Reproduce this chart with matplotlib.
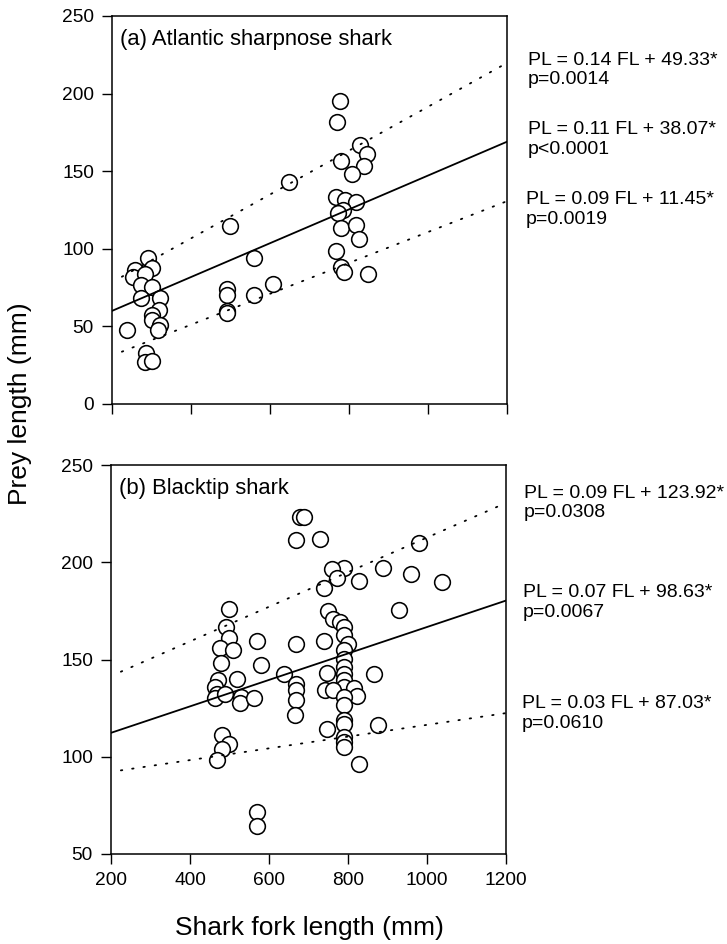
import matplotlib
matplotlib.use("Agg")
import matplotlib.pyplot as plt
import numpy as np

plt.rcParams['font.family'] = ['Liberation Sans', 'DejaVu Sans']

# (a) Atlantic sharpnose shark: fork length (mm), prey length (mm)
sharpnose_fl = [239, 259, 253, 291, 300, 283, 274, 300, 274, 321, 318, 300, 300, 321, 317,
                285, 283, 300,
                498, 490, 490, 490, 490, 559, 559, 608, 649,
                777, 769, 779, 828, 845, 838, 807, 767, 790, 818, 786, 771, 779, 818,
                826, 767, 781, 788, 849]
sharpnose_pl = [47.7, 86.3, 82, 94, 87.4, 83.8, 76.7, 75.6, 68, 68, 60.6, 57.4, 54, 51, 48,
                32.6, 27.3, 28,
                114.7, 74, 70.5, 60, 58.5, 93.9, 70, 77.1, 143.3,
                195.4, 181.5, 156.8, 166.9, 160.9, 153.6, 148, 133.2, 131.5, 130.4, 125, 122.9, 113.2, 115.4,
                106.3, 98.8, 88.5, 84.8, 83.5]

# (b) Blacktip shark
blacktip_fl = [500, 491, 500, 476, 510, 479, 472, 518, 463, 468, 463, 489, 528, 527, 561,
               480, 500, 480, 468, 569, 580, 569, 569,
               679, 689, 668, 728, 668, 639, 669, 669, 669, 667,
               789, 760, 772, 738, 828, 888, 959, 981, 1039, 928, 749, 763, 780, 789, 789,
               801, 738, 789, 789, 789, 789, 746, 789, 789, 742, 763, 814, 824, 789, 789,
               789, 789, 748, 789, 789, 789, 867, 877, 827]
blacktip_pl = [176, 166.8, 160.8, 155.7, 154.8, 148.3, 139.4, 140.2, 136, 132.5, 130.4, 132.2, 130.8, 127.4, 130.1,
               111.2, 106.8, 104.2, 98.2, 159.6, 147.1, 71.6, 64.2,
               223.1, 223.1, 211.4, 211.9, 158.2, 142.5, 137.6, 134.2, 129.1, 121.4,
               197, 196.3, 191.7, 187, 190.6, 196.8, 193.9, 210, 190.1, 175.4, 174.9, 171, 169.4, 166.8, 162.5,
               157.9, 159.4, 154.8, 150.5, 146.2, 142.8, 143.3, 139.4, 136, 134.2, 134.2, 135.1, 131.1, 130.8, 126.5,
               118.8, 117, 114.2, 110.2, 107.6, 105, 142.5, 116.2, 96.5]

# regression lines (slope, intercept): upper, fit, lower
sharpnose_lines = [(0.1413, 50.2), (0.109, 38.2), (0.0995, 11.3)]
blacktip_lines = [(0.089, 123.7), (0.068, 98.7), (0.0302, 86.2)]

sharpnose_eqs = [("PL = 0.14 FL + 49.33*", "p=0.0014"),
                 ("PL = 0.11 FL + 38.07*", "p<0.0001"),
                 ("PL = 0.09 FL + 11.45*", "p=0.0019")]
blacktip_eqs = [("PL = 0.09 FL + 123.92*", "p=0.0308"),
                ("PL = 0.07 FL + 98.63*", "p=0.0067"),
                ("PL = 0.03 FL + 87.03*", "p=0.0610")]

W, H = 727, 944
fig = plt.figure(figsize=(W / 100, H / 100), dpi=100)


def panel(rect, fl, pl, lines, title, ylim, yticks):
    ax = fig.add_axes(rect)
    ax.plot(fl, pl, 'o', ms=11.3, mfc='white', mec='black', mew=1.15, zorder=2)
    x_fit = np.array([200, 1200])
    x_ci = np.array([225, 1200])
    for i, (m, b) in enumerate(lines):
        if i == 1:
            ax.plot(x_fit, m * x_fit + b, color='black', lw=1.3, zorder=3)
        else:
            ax.plot(x_ci, m * x_ci + b, color='black', lw=1.3,
                    linestyle=(0, (0.8, 5.5)), dash_capstyle='round', zorder=3)
    ax.set_xlim(200, 1200)
    ax.set_ylim(*ylim)
    ax.set_xticks([200, 400, 600, 800, 1000, 1200])
    ax.set_yticks(yticks)
    ax.tick_params(direction='out', length=7, width=1.0, labelsize=13.8, pad=6)
    for s in ax.spines.values():
        s.set_linewidth(1.1)
    ax.text(0.02, 0.967, title, transform=ax.transAxes, ha='left', va='top', fontsize=15.8)
    return ax


ax1 = panel([112 / W, 1 - 404 / H, 395 / W, 388 / H], sharpnose_fl, sharpnose_pl,
            sharpnose_lines, "(a) Atlantic sharpnose shark", (0, 250), [0, 50, 100, 150, 200, 250])
ax1.set_xticklabels([])
ax2 = panel([111 / W, 1 - 854 / H, 395 / W, 389 / H], blacktip_fl, blacktip_pl,
            blacktip_lines, "(b) Blacktip shark", (50, 250), [50, 100, 150, 200, 250])

# equation labels (pixel positions of baselines)
for (eq, p), (x, y1, y2) in zip(sharpnose_eqs, [(528, 65, 84), (528, 134, 154), (526, 204, 224)]):
    fig.text(x / W, 1 - y1 / H, eq, fontsize=14, va='baseline')
    fig.text(x / W, 1 - y2 / H, p, fontsize=14, va='baseline')
for (eq, p), (x, y1, y2) in zip(blacktip_eqs, [(524, 498, 517), (523, 597, 617), (522, 708, 728)]):
    fig.text(x / W, 1 - y1 / H, eq, fontsize=14, va='baseline')
    fig.text(x / W, 1 - y2 / H, p, fontsize=14, va='baseline')

fig.text(20 / W, 1 - 404 / H, "Prey length (mm)", rotation=90, ha='center', va='center', fontsize=19)
fig.text(309 / W, 1 - 928 / H, "Shark fork length (mm)", ha='center', va='center', fontsize=19)

fig.savefig("out.png", dpi=100)
